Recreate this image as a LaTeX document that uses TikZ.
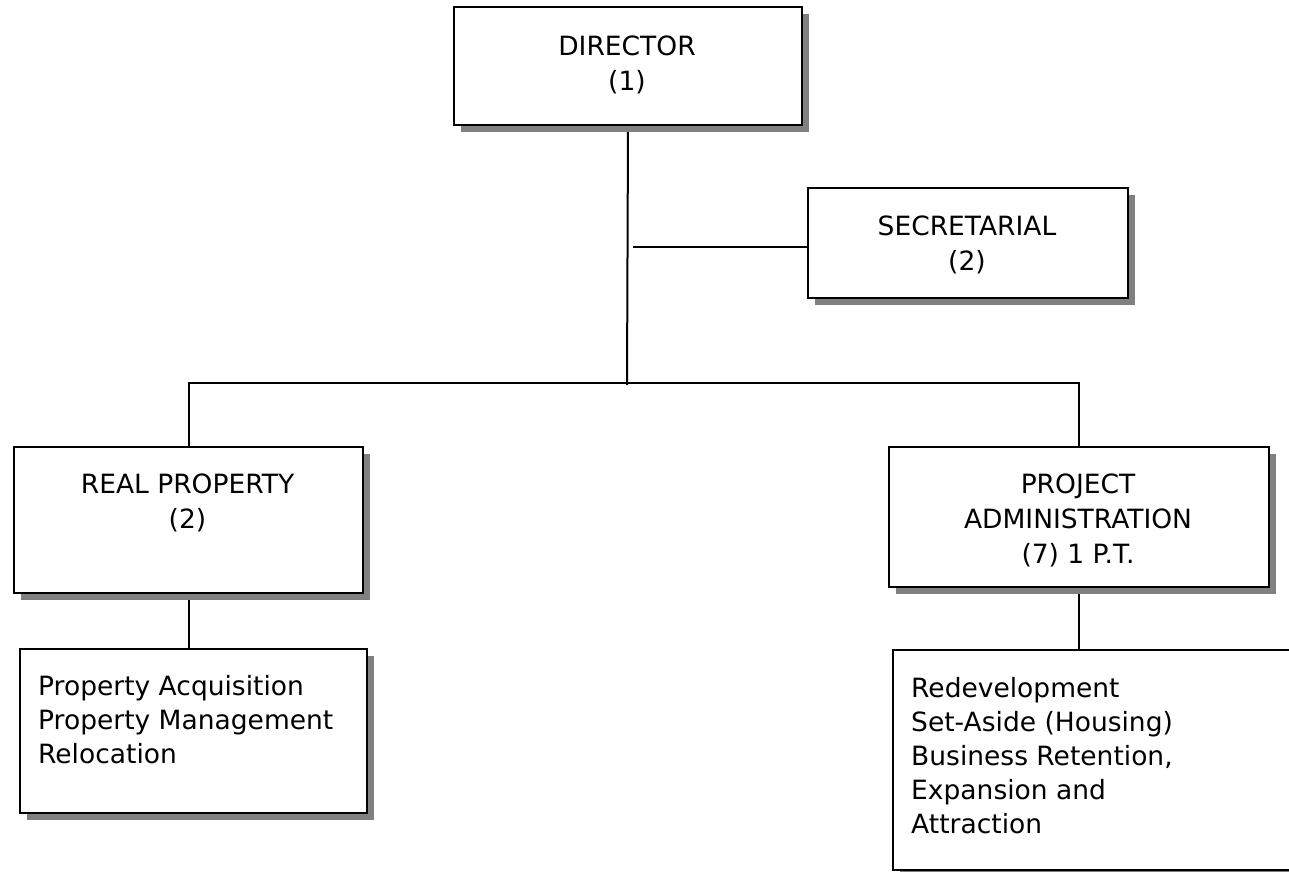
\documentclass[tikz,border=0pt]{standalone}
\usepackage{fontspec}
\setmainfont{DejaVu Sans}
\usetikzlibrary{shadows,backgrounds}
\begin{document}
\begin{tikzpicture}[x=1pt,y=-1pt,
  box/.style={draw, line width=2pt, fill=white,
    general shadow={fill=black!50, shadow xshift=7pt, shadow yshift=-7pt},
    inner sep=0pt, anchor=north west},
  txt/.style={inner sep=0pt, font=\fontsize{26.5pt}{35pt}\selectfont},
  ltxt/.style={inner sep=0pt, font=\fontsize{26.5pt}{34pt}\selectfont, align=left, anchor=base west},
  conn/.style={line width=2pt}]
\useasboundingbox (0,0) rectangle (1289,871);
\clip (0,0) rectangle (1289,871);
% boxes
\node[box, minimum width=348pt, minimum height=118pt] (dir) at (453,6) {};
\node[box, minimum width=320pt, minimum height=110pt] (sec) at (807,187) {};
\node[box, minimum width=349pt, minimum height=146pt] (rp) at (13,446) {};
\node[box, minimum width=380pt, minimum height=140pt] (pa) at (888,446) {};
\node[box, minimum width=347pt, minimum height=164pt] (rpl) at (19,648) {};
\node[box, minimum width=440pt, minimum height=220pt] (pal) at (892,649) {};
% texts (base anchor = baseline of the last line)
\node[txt, align=center, anchor=base] (dirt) at (627,90) {DIRECTOR\\(1)};
\node[txt, align=center, anchor=base] (sect) at (967,270) {SECRETARIAL\\(2)};
\node[txt, align=center, anchor=base] (rpt) at (187.5,528) {REAL PROPERTY\\(2)};
\node[txt, align=center, anchor=base] (pat) at (1078,563) {PROJECT\\ADMINISTRATION\\(7) 1 P.T.};
\node[ltxt] (rplt) at (38,763) {Property Acquisition\\Property Management\\Relocation};
\node[ltxt] (palt) at (911,833) {Redevelopment\\Set-Aside (Housing)\\Business Retention,\\Expansion and\\Attraction};
% connectors
\begin{scope}[on background layer]
\coordinate (j) at (627,383);
\coordinate (sj) at (633,247);
\draw[conn] (dir.south) -- ([yshift=-2pt]j);
\draw[conn] (rp.north) |- (j) -| (pa.north);
\draw[conn] (sj) -- (sj -| sec.west);
\draw[conn] (rp.south) -- (rp.south |- rpl.north);
\draw[conn] (pa.south) -- (pa.south |- pal.north);
\end{scope}
\end{tikzpicture}
\end{document}
